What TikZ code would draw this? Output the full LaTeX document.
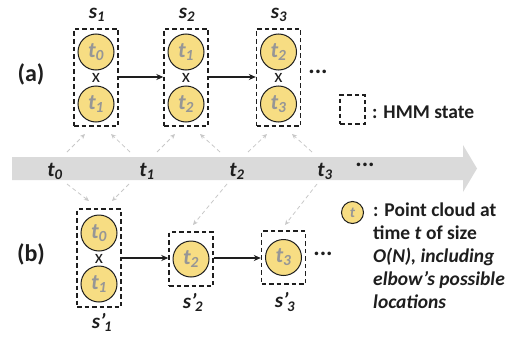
\documentclass[tikz,border=0pt]{standalone}
\usepackage{fontspec}
\setmainfont{Carlito}
\usetikzlibrary{arrows.meta,calc}
\definecolor{cellyellow}{RGB}{247,221,131}
\definecolor{cellgray}{RGB}{150,150,150}
\definecolor{bandgray}{RGB}{218,218,218}
\definecolor{hintgray}{RGB}{200,200,200}
\definecolor{txt}{RGB}{30,30,30}
\begin{document}
\begin{tikzpicture}[x=1pt,y=-1pt,
  statebox/.style={draw=txt, dash pattern=on 4.5pt off 3pt, line width=1.4pt, minimum width=44pt, inner sep=0pt},
  cell/.style={circle, draw=txt, line width=1pt, fill=cellyellow, minimum size=36pt, inner sep=0pt, text=cellgray, font=\bfseries\itshape\fontsize{22}{22}\selectfont},
  lbl/.style={inner sep=0pt, text=txt, font=\bfseries\itshape\fontsize{21}{21}\selectfont},
  part/.style={inner sep=0pt, text=txt, font=\bfseries\fontsize{24}{24}\selectfont},
  xmark/.style={inner sep=0pt, text=txt, font=\fontsize{19}{19}\selectfont},
  dots/.style={inner sep=0pt, text=txt, font=\bfseries\fontsize{24}{24}\selectfont},
  legtext/.style={inner sep=0pt, text=txt, align=left, font=\bfseries\fontsize{19.5}{23}\selectfont},
  flow/.style={-{Stealth[length=7pt,width=6pt]}, line width=1.3pt, draw=txt},
  hint/.style={-{Stealth[length=5pt,width=4.5pt]}, dash pattern=on 4pt off 3pt, line width=0.8pt, draw=hintgray},
]
\useasboundingbox (0,0) rectangle (518,337);

% time line
\fill[bandgray] (12,157) -- (463,157) -- (463,145) -- (477,168.5) -- (463,192) -- (463,180) -- (12,180) -- cycle;
\node[lbl] (T0) at (55,171) {t\textsubscript{0}};
\node[lbl] (T1) at (147,171) {t\textsubscript{1}};
\node[lbl] (T2) at (237,171) {t\textsubscript{2}};
\node[lbl] (T3) at (325,171) {t\textsubscript{3}};
\node[dots] (Td) at (365,165) {...};

% (a)
\node[part] (pa) at (31,74) {(a)};
\node[statebox, minimum height=97pt] (s1) at (96,77.5) {};
\node[statebox, minimum height=97pt] (s2) at (186,77.5) {};
\node[statebox, minimum height=97pt] (s3) at (278.5,77.5) {};
\node[cell] (a10) at (96,52) {t\textsubscript{0}};
\node[cell] (a11) at (96,104) {t\textsubscript{1}};
\node[cell] (a21) at (186,52) {t\textsubscript{1}};
\node[cell] (a22) at (186,104) {t\textsubscript{2}};
\node[cell] (a32) at (278.5,52) {t\textsubscript{2}};
\node[cell] (a33) at (278.5,104) {t\textsubscript{3}};
\node[xmark] (x1) at (96,78) {x};
\node[xmark] (x2) at (186,78) {x};
\node[xmark] (x3) at (278.5,78) {x};
\node[lbl] (ls1) at (97,15) {s\textsubscript{1}};
\node[lbl] (ls2) at (187,15) {s\textsubscript{2}};
\node[lbl] (ls3) at (279,15) {s\textsubscript{3}};
\node[dots] (da) at (318,72) {...};
\draw[flow] (s1.east |- 0,77) -- (s2.west |- 0,77);
\draw[flow] (s2.east |- 0,77) -- (s3.west |- 0,77);

% legend box
\node[statebox, minimum width=25pt, minimum height=29pt] (lg) at (352.5,109.5) {};
\node[legtext, anchor=base west] (lgt) at (372,118) {: HMM state};

% (b)
\node[part] (pb) at (31,254) {(b)};
\node[statebox, minimum height=98pt] (b1) at (99,258) {};
\node[statebox, minimum height=54pt] (b2) at (191,259) {};
\node[statebox, minimum height=53pt] (b3) at (283.5,257.5) {};
\node[cell] (b10) at (99,233) {t\textsubscript{0}};
\node[cell] (b11) at (99,284) {t\textsubscript{1}};
\node[cell] (b22) at (191,259) {t\textsubscript{2}};
\node[cell] (b33) at (283.5,257.5) {t\textsubscript{3}};
\node[xmark] (xb) at (99,259) {x};
\node[lbl] (lb1) at (102,322) {s’\kern-1.5pt\textsubscript{1}};
\node[lbl] (lb2) at (193,302) {s’\kern-1.5pt\textsubscript{2}};
\node[lbl] (lb3) at (285,302) {s’\kern-1.5pt\textsubscript{3}};
\node[dots] (db) at (323,254) {...};
\draw[flow] (b1.east |- 0,258) -- (b2.west |- 0,258);
\draw[flow] (b2.east |- 0,258) -- (b3.west |- 0,258);

% legend circle
\node[cell, minimum size=22pt, font=\bfseries\itshape\fontsize{15}{15}\selectfont] (lc) at (352.5,212.5) {t};
\node[legtext, anchor=north west] (lct) at (373,203) {: Point cloud at\\time \textit{t} of size\\\textit{O(N), including}\\\textit{elbow’s possible}\\\textit{locations}};

% observation hints
\coordinate (h1s) at (67,152);  \coordinate (h1e) at (85,134);
\coordinate (h2s) at (130,152); \coordinate (h2e) at (111,134);
\coordinate (h3s) at (157,152); \coordinate (h3e) at (175,134);
\coordinate (h4s) at (220,152); \coordinate (h4e) at (200,134);
\coordinate (h5s) at (248,152); \coordinate (h5e) at (267,134);
\coordinate (h6s) at (312,152); \coordinate (h6e) at (292,134);
\draw[hint] (h1s) -- (h1e);
\draw[hint] (h2s) -- (h2e);
\draw[hint] (h3s) -- (h3e);
\draw[hint] (h4s) -- (h4e);
\draw[hint] (h5s) -- (h5e);
\draw[hint] (h6s) -- (h6e);
\coordinate (g1s) at (67,184);  \coordinate (g1e) at (89,201);
\coordinate (g2s) at (129,184); \coordinate (g2e) at (112,201);
\coordinate (g3s) at (227,184); \coordinate (g3e) at (193,225);
\coordinate (g4s) at (317,184); \coordinate (g4e) at (285,225);
\draw[hint] (g1s) -- (g1e);
\draw[hint] (g2s) -- (g2e);
\draw[hint] (g3s) -- (g3e);
\draw[hint] (g4s) -- (g4e);
\end{tikzpicture}
\end{document}
